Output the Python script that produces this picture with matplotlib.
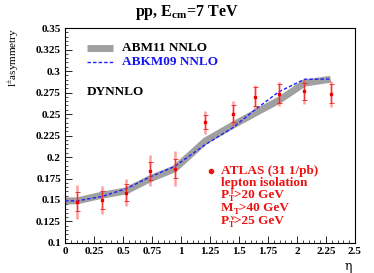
import matplotlib
matplotlib.use("Agg")
import matplotlib.pyplot as plt
from matplotlib.ticker import MultipleLocator, FuncFormatter
from matplotlib.transforms import offset_copy

plt.rcParams['font.family'] = ['Liberation Serif', 'DejaVu Serif']
plt.rcParams['mathtext.fontset'] = 'custom'
plt.rcParams['mathtext.rm'] = 'Liberation Serif'
plt.rcParams['mathtext.bf'] = 'Liberation Serif:bold'

# ATLAS data
eta_data = [0.105, 0.315, 0.525, 0.735, 0.945, 1.21, 1.445, 1.635, 1.845, 2.065, 2.29]
asym_data = [0.148, 0.150, 0.1585, 0.184, 0.1865, 0.2405, 0.2505, 0.270, 0.2735, 0.2765, 0.2735]
err_stat = [0.011, 0.0105, 0.010, 0.0107, 0.0107, 0.008, 0.010, 0.011, 0.011, 0.0097, 0.011]
err_tot = [0.0198, 0.016, 0.0155, 0.018, 0.020, 0.0136, 0.0145, 0.0136, 0.014, 0.0145, 0.0153]

# Theory curves
eta_th = [0.0, 0.105, 0.315, 0.525, 0.735, 0.945, 1.21, 1.445, 1.635, 1.845, 2.065, 2.29]
abm11 = [0.149, 0.149, 0.1555, 0.1605, 0.1748, 0.1862, 0.2186, 0.2368, 0.2508, 0.266, 0.286, 0.2905]
abkm09 = [0.149, 0.149, 0.154, 0.163, 0.177, 0.189, 0.2145, 0.234, 0.2547, 0.276, 0.2905, 0.2907]

fig = plt.figure(figsize=(3.74, 2.73), dpi=100)
ax = fig.add_axes([0.174, 0.110, 0.775, 0.787])

ax.plot(eta_th, abm11, color='#a0a0a0', lw=5.0, solid_capstyle='butt', zorder=2)
ax.plot(eta_th, abkm09, color='#2020ff', lw=1.0, ls=(0, (2.5, 1.5)), zorder=3)

ax.errorbar(eta_data, asym_data, yerr=err_tot, fmt='none', ecolor=(1, 0.25, 0.25, 0.5),
            elinewidth=1.8, capsize=0, zorder=4)
ax.errorbar(eta_data, asym_data, yerr=err_stat, fmt='s', color='#ee0000', ms=1.6,
            ecolor='#ee2222', elinewidth=0.6, capsize=1.8, capthick=0.6, zorder=5)

ax.set_xlim(0, 2.5)
ax.set_ylim(0.1, 0.35)
ax.xaxis.set_major_locator(MultipleLocator(0.25))
ax.xaxis.set_minor_locator(MultipleLocator(0.05))
ax.yaxis.set_major_locator(MultipleLocator(0.025))
ax.yaxis.set_minor_locator(MultipleLocator(0.005))

def fmt(v, pos):
    return ('%.3f' % v).rstrip('0').rstrip('.')
ax.xaxis.set_major_formatter(FuncFormatter(fmt))
ax.yaxis.set_major_formatter(FuncFormatter(fmt))

ax.tick_params(which='both', direction='in', top=False, right=False)
ax.tick_params(which='major', length=5, width=0.6, labelsize=8, pad=3)
ax.tick_params(which='minor', length=2.5, width=0.5)
for lab in ax.get_xticklabels() + ax.get_yticklabels():
    lab.set_fontweight('bold')
for sp in ax.spines.values():
    sp.set_linewidth(0.8)

fig.text(0.5, 0.955, r'pp, E$_{\mathbf{cm}}$=7 TeV', ha='center', va='center',
         fontsize=11.5, fontweight='bold')
fig.text(0.035, 0.897, r'l$^{\pm}$asymmetry', rotation=90, ha='center', va='top', fontsize=8)
fig.text(0.932, 0.025, 'η', ha='center', va='center', fontsize=9, family=['DejaVu Serif'])

# legend
ax.plot([0.185, 0.41], [0.3264, 0.3264], color='#a0a0a0', lw=5.0, solid_capstyle='butt')
ax.plot([0.185, 0.41], [0.3100, 0.3100], color='#2020ff', lw=1.0, ls=(0, (2.5, 1.5)))
ax.text(0.495, 0.3264, 'ABM11 NNLO', fontsize=9.5, fontweight='bold', va='center', color='black')
ax.text(0.495, 0.3100, 'ABKM09 NNLO', fontsize=9.5, fontweight='bold', va='center', color='#1515ee')
ax.text(0.19, 0.2756, 'DYNNLO', fontsize=9.5, fontweight='bold', va='center', color='black')

red = '#ee1111'
fs = 9.5
renderer = fig.canvas.get_renderer()

def compose(x, y, pieces):
    """pieces: list of (text, size, dy_points, linespacing) drawn left to right"""
    dx = 0.0
    for txt, size, dy, ls in pieces:
        t = ax.text(x, y, txt, fontsize=size, fontweight='bold', va='center', ha='left',
                    color=red, linespacing=ls, multialignment='center',
                    transform=offset_copy(ax.transData, fig=fig, x=dx, y=dy, units='points'))
        dx += t.get_window_extent(renderer).width * 72.0 / fig.dpi

ax.plot([1.255], [0.1841], 'o', color=red, ms=3)
tx = 1.345
compose(tx, 0.1841, [('ATLAS (31 1/pb)', fs, 0, 1.2)])
compose(tx, 0.1700, [('lepton isolation', fs, 0, 1.2)])
compose(tx, 0.1555, [('P', fs, 0, 1.2), ('l\nT', 5.8, -0.3, 0.85), ('>20 GeV', fs, 0, 1.2)])
compose(tx, 0.1405, [('M', fs, 0, 1.2), ('T', 6.0, -2.6, 1.2), ('>40 GeV', fs, 0, 1.2)])
compose(tx, 0.1255, [('P', fs, 0, 1.2), ('ν\nT', 5.8, -0.3, 0.85), ('>25 GeV', fs, 0, 1.2)])

fig.savefig('out.png', dpi=100)
